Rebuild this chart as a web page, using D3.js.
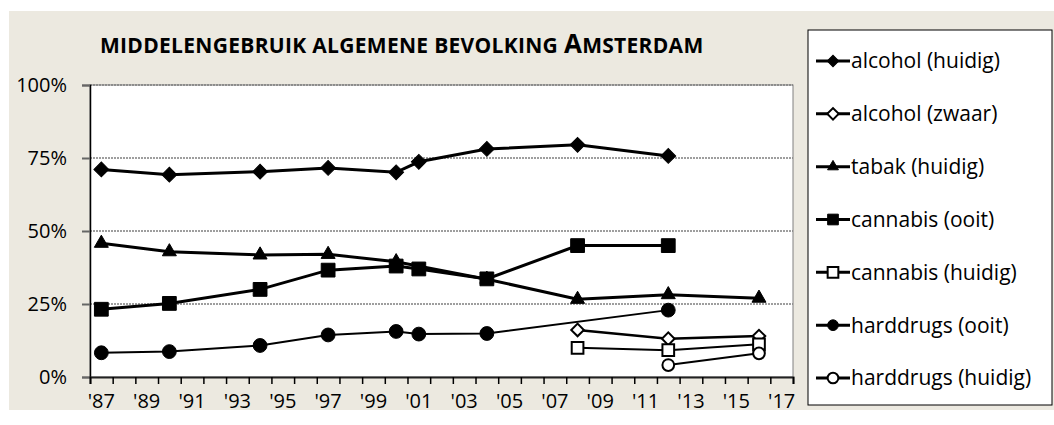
<!DOCTYPE html>
<meta charset="utf-8">
<style>
body { margin: 0; background: #fff; }
text { font-family: "Open Sans", "Noto Sans", sans-serif; fill: #000; }
.grid line { stroke: #7f7f7f; stroke-width: 1.3px; stroke-dasharray: 2,1; }
.line { fill: none; stroke: #000; }
</style>
<body>
<div id="chart"></div>
<script src="https://d3js.org/d3.v7.min.js"></script>
<script>
// survey years and series values (percent)
var years = [1987, 1990, 1994, 1997, 2000, 2001, 2004, 2008, 2012, 2016];
var alcoholHuidig   = [71.1, 69.3, 70.3, 71.6, 70.1, 73.7, 78.1, 79.5, 75.7, null];
var alcoholZwaar    = [null, null, null, null, null, null, null, 16.1, 13.1, 14.0];
var tabakHuidig     = [45.8, 42.9, 41.8, 42.0, 39.5, null, 33.5, 26.6, 28.2, 27.0];
var cannabisOoit    = [23.2, 25.2, 30.0, 36.6, 38.0, 37.0, 33.6, 45.0, 45.0, null];
var cannabisHuidig  = [null, null, null, null, null, null, null, 10.0, 9.2, 11.2];
var harddrugsOoit   = [8.3, 8.7, 10.8, 14.4, 15.6, 14.7, 14.9, null, 22.9, null];
var harddrugsHuidig = [null, null, null, null, null, null, null, null, 4.1, 8.1];

var seriesNames = ["alcohol (huidig)", "alcohol (zwaar)", "tabak (huidig)", "cannabis (ooit)",
                   "cannabis (huidig)", "harddrugs (ooit)", "harddrugs (huidig)"];
var yTicks = [0, 25, 50, 75, 100];
var xLabelYears = d3.range(1987, 2018, 2);

// marker style per series
var styles = [
  {values: alcoholHuidig,   shape: "diamond",  fill: "#000", width: 3},
  {values: alcoholZwaar,    shape: "diamond",  fill: "#fff", width: 2.5},
  {values: tabakHuidig,     shape: "triangle", fill: "#000", width: 3},
  {values: cannabisOoit,    shape: "square",   fill: "#000", width: 3},
  {values: cannabisHuidig,  shape: "square",   fill: "#fff", width: 2},
  {values: harddrugsOoit,   shape: "circle",   fill: "#000", width: 2},
  {values: harddrugsHuidig, shape: "circle",   fill: "#fff", width: 2}
];

var W = 1054, H = 425;
var plot = {left: 90, top: 85, right: 793, bottom: 377};

var svg = d3.select("#chart").append("svg")
    .attr("width", W)
    .attr("height", H);

// beige chart panel
svg.append("rect")
    .attr("x", 9).attr("y", 11)
    .attr("width", W - 9).attr("height", 399)
    .attr("fill", "#ECE9E0");

// scales
var x = d3.scaleLinear().domain([1986.5, 2017.5]).range([plot.left, plot.right]);
var y = d3.scaleLinear().domain([0, 100]).range([plot.bottom, plot.top]);

// white plot area
svg.append("rect")
    .attr("x", plot.left).attr("y", plot.top)
    .attr("width", plot.right - plot.left).attr("height", plot.bottom - plot.top)
    .attr("fill", "#fff")
    .attr("stroke", "#808080")
    .attr("stroke-width", 1);

// gridlines
svg.append("g")
    .attr("class", "grid")
  .selectAll("line")
  .data(yTicks.slice(1))
  .enter().append("line")
    .attr("x1", plot.left).attr("x2", plot.right)
    .attr("y1", function(d) { return y(d); })
    .attr("y2", function(d) { return y(d); });

// y axis
var yAxis = svg.append("g")
    .attr("transform", "translate(" + plot.left + ",0)")
    .call(d3.axisLeft(y).tickValues(yTicks).tickSize(8).tickPadding(15)
      .tickFormat(function(d) { return d + "%"; }));
yAxis.select(".domain").attr("stroke", "#000").attr("stroke-width", 1.5);
yAxis.selectAll(".tick line").attr("stroke", "#666").attr("stroke-width", 2);
yAxis.selectAll("text").style("font-size", "20px").attr("fill", "#000");

// x axis: ticks at year boundaries, labels every two years
var xAxis = svg.append("g")
    .attr("transform", "translate(0," + plot.bottom + ")")
    .call(d3.axisBottom(x).tickValues(d3.range(1986.5, 2018, 1)).tickSize(7).tickFormat(""));
xAxis.select(".domain").attr("stroke", "#222").attr("stroke-width", 2);
xAxis.selectAll(".tick line").attr("stroke", "#000").attr("stroke-width", 1.5);

svg.append("g").selectAll("text")
  .data(xLabelYears)
  .enter().append("text")
    .attr("x", function(d) { return x(d); })
    .attr("y", 408)
    .attr("text-anchor", "middle")
    .style("font-size", "20px")
    .text(function(d) { return "'" + String(d).slice(2); });

// title
var title = svg.append("text")
    .attr("x", 100)
    .attr("y", 53)
    .style("font-weight", "bold")
    .style("font-size", "21px")
    .style("letter-spacing", "0.3px");
title.append("tspan").text("MIDDELENGEBRUIK  ALGEMENE  BEVOLKING  ");
title.append("tspan").style("font-size", "26px").text("A");
title.append("tspan").text("MSTERDAM");

// marker path generator
function markerPath(shape, scale) {
  var sym, size;
  if (shape === "diamond") { sym = d3.symbolSquare; size = 110; }
  if (shape === "triangle") { sym = d3.symbolTriangle; size = 85; }
  if (shape === "square") { sym = d3.symbolSquare; size = 190; }
  if (shape === "circle") { sym = d3.symbolCircle; size = 150; }
  return d3.symbol().type(sym).size(size * scale)();
}
function openScale(s) { return s.fill === "#fff" ? 0.72 : 1; }

var line = d3.line()
    .x(function(d) { return x(d.year); })
    .y(function(d) { return y(d.value); });

styles.forEach(function(s, i) {
  var data = years.map(function(yr, j) { return {year: yr, value: s.values[j]}; })
      .filter(function(d) { return d.value !== null; });
  var g = svg.append("g");
  g.append("path")
      .datum(data)
      .attr("class", "line")
      .attr("stroke-width", s.width)
      .attr("d", line);
  g.selectAll(".pt")
    .data(data)
    .enter().append("path")
      .attr("d", markerPath(s.shape, openScale(s)))
      .attr("transform", function(d) {
        return "translate(" + x(d.year) + "," + y(d.value) + ")" + (s.shape === "diamond" ? " rotate(45)" : "");
      })
      .attr("fill", s.fill)
      .attr("stroke", "#000")
      .attr("stroke-width", s.fill === "#fff" ? 2 : 1);
});

// legend
var legend = svg.append("g");
legend.append("rect")
    .attr("x", 808).attr("y", 30)
    .attr("width", 244).attr("height", 375)
    .attr("fill", "#fff")
    .attr("stroke", "#000")
    .attr("stroke-width", 1);

var ly = d3.scalePoint().domain(seriesNames).range([61, 378]);
var item = legend.selectAll(".item")
  .data(seriesNames)
  .enter().append("g")
    .attr("transform", function(d) { return "translate(0," + ly(d) + ")"; });
item.append("line")
    .attr("x1", 816).attr("x2", 850)
    .attr("stroke", "#000")
    .attr("stroke-width", 3);
item.append("path")
    .attr("d", function(d, i) { return markerPath(styles[i].shape, 0.6); })
    .attr("transform", function(d, i) { return "translate(833,0)" + (styles[i].shape === "diamond" ? " rotate(45)" : ""); })
    .attr("fill", function(d, i) { return styles[i].fill; })
    .attr("stroke", "#000")
    .attr("stroke-width", function(d, i) { return styles[i].fill === "#fff" ? 2 : 1; });
item.append("text")
    .attr("x", 851)
    .attr("dy", "0.35em")
    .style("font-size", "21px")
    .text(function(d) { return d; });
</script>
</body>
